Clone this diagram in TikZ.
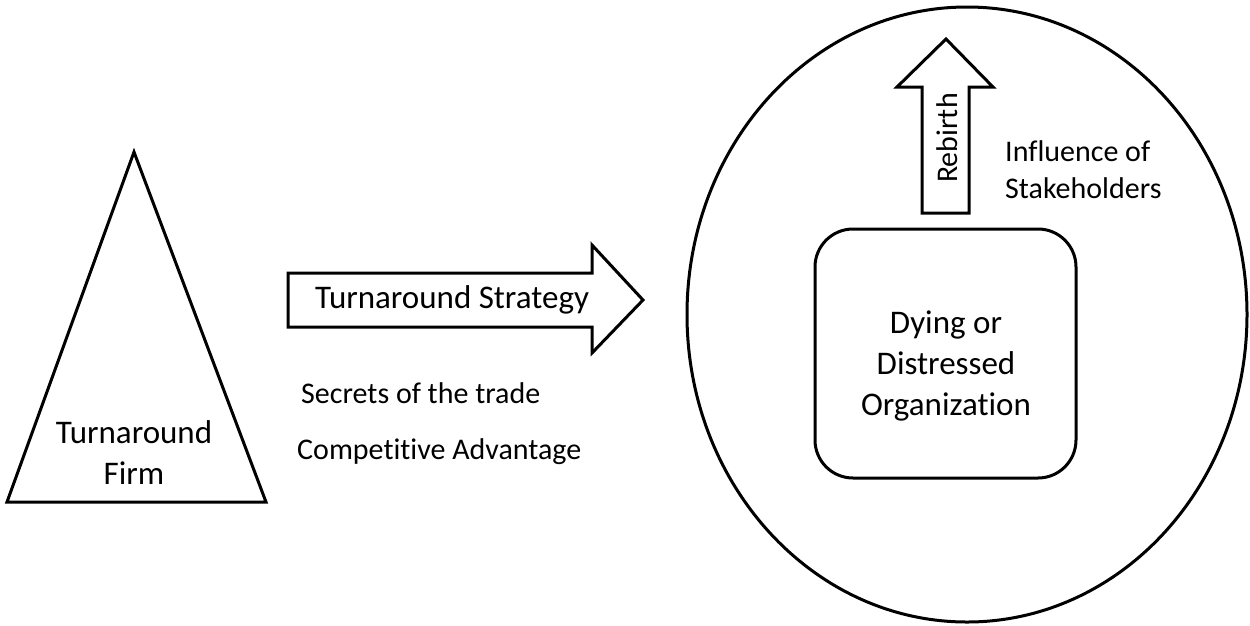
\documentclass[tikz,border=0pt]{standalone}
\usepackage{fontspec}
\setmainfont{Carlito}[Ligatures=NoCommon]
\begin{document}
\begin{tikzpicture}[x=1pt,y=-1pt,
  outline/.style={draw=black,line width=3pt,line join=miter,fill=white},
  bigtxt/.style={font=\fontsize{33}{41}\selectfont,align=center,inner sep=0pt},
  smalltxt/.style={font=\fontsize{30}{37}\selectfont,align=left,inner sep=0pt}]
\useasboundingbox (0,0) rectangle (1250,625);
% triangle
\draw[outline] (134,152) -- (266,502) -- (7,502) -- cycle;
\node[bigtxt] (firm) at (134,453) {Turnaround\\Firm};
% turnaround strategy arrow
\draw[outline] (288,273) -- (592,273) -- (592,245) -- (643,300) -- (592,353) -- (592,327) -- (288,327) -- cycle;
\node[bigtxt] (strat) at (452,300) {Turnaround Strategy};
% texts
\node[smalltxt,anchor=west] (secrets) at (301,393) {Secrets of the trade};
\node[smalltxt,anchor=west] (comp) at (297,452) {Competitive Advantage};
% environment ellipse
\draw[outline] (967,314.5) ellipse [x radius=280, y radius=307.5];
% organization box
\draw[outline,rounded corners=38pt] (815,229) rectangle (1076,478);
\node[bigtxt] (org) at (946,366) {Dying or\\Distressed\\Organization};
% rebirth arrow
\draw[outline] (922,213) -- (922,87) -- (897,87) -- (946,39) -- (993,87) -- (969,87) -- (969,213) -- cycle;
\node[smalltxt,rotate=90] (rebirth) at (947,138) {Rebirth};
% influence text
\node[smalltxt,anchor=west] (infl) at (1005,170) {Influence of\\Stakeholders};
\end{tikzpicture}
\end{document}
